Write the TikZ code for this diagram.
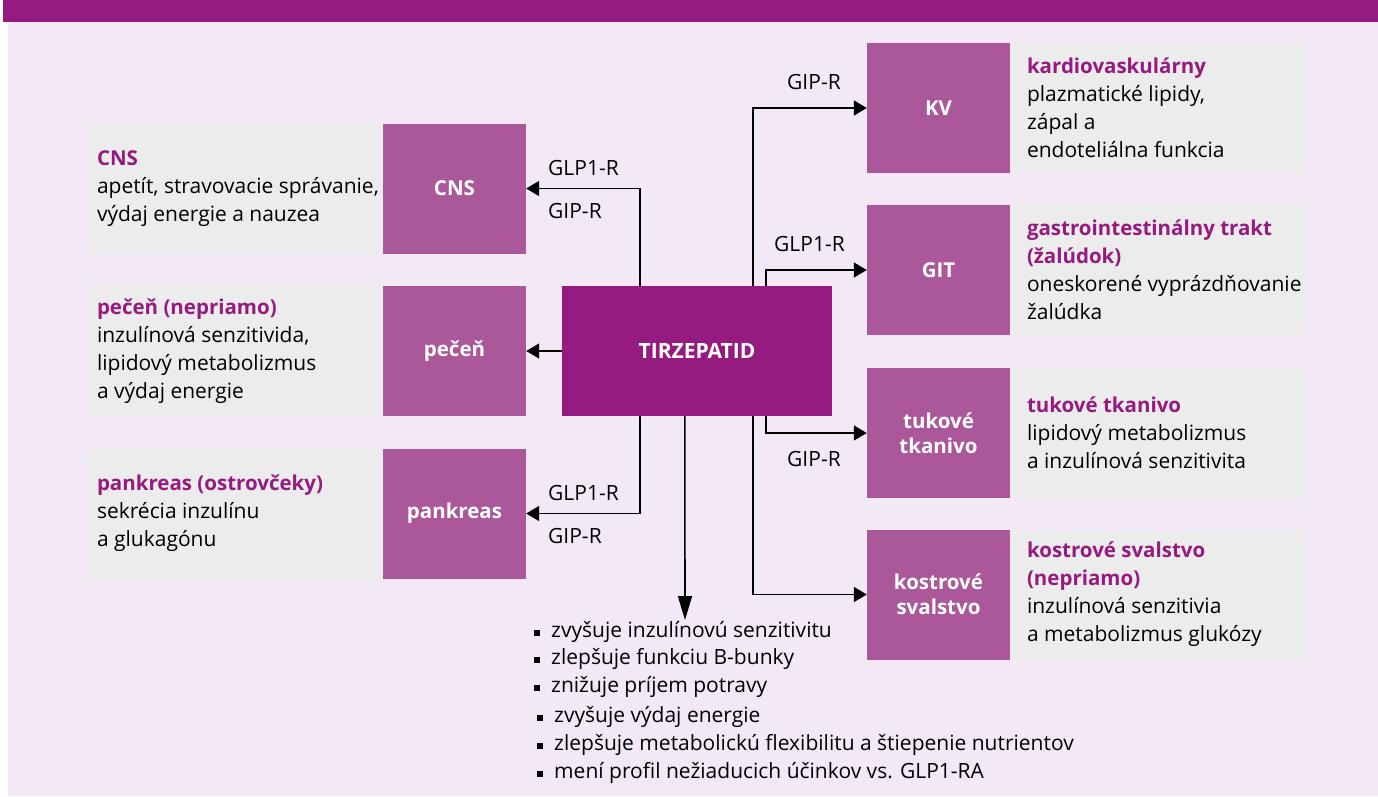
\documentclass[tikz,border=0pt]{standalone}
\usepackage{fontspec}
\setmainfont{Open Sans}
\usetikzlibrary{arrows.meta,calc}
\definecolor{banner}{RGB}{149,27,128}
\definecolor{side}{RGB}{171,88,155}
\definecolor{greyc}{RGB}{236,236,236}
\definecolor{bgc}{RGB}{243,232,245}
\definecolor{head}{RGB}{149,27,128}
\tikzset{
  pbox/.style={fill=side, minimum width=143, minimum height=130, inner sep=0, text=white, align=center, font=\fontsize{20.5}{25}\selectfont\bfseries},
  gbox/.style={fill=greyc, minimum height=130, inner sep=0},
  desc/.style={anchor=west, align=left, inner sep=0, font=\fontsize{21}{28}\selectfont},
  lbl/.style={inner sep=0, font=\fontsize{21}{24}\selectfont},
  arr/.style={line width=1.6, -{Triangle[length=13,width=15]}},
  darr/.style={line width=1.6, -{Triangle[length=24,width=14]}},
  bul/.style={anchor=west, inner sep=0, font=\fontsize{21}{24}\selectfont},
}
\newcommand{\hd}[1]{{\fontsize{20.5}{28}\selectfont\bfseries\color{head}#1}}
\begin{document}
\begin{tikzpicture}[x=1pt,y=-1pt]
\useasboundingbox (0,0) rectangle (1378,796);
\fill[bgc] (8,22) rectangle (1378,796);
\fill[banner] (3,0) rectangle (1378,22);
% center
\node[fill=banner, minimum width=270, minimum height=130, inner sep=0, text=white, font=\fontsize{21}{25}\selectfont\bfseries] (tz) at (697,351) {TIRZEPATID};
% left
\node[gbox, minimum width=297] (gcns) at (234.5,188.5) {};
\node[pbox] (cns) at (454.5,188.5) {CNS};
\node[desc] (dcns) at ([xshift=11]gcns.west) {\hd{CNS}\\apetít, stravovacie správanie,\\výdaj energie a nauzea};
\node[gbox, minimum width=297] (gpec) at (234.5,351) {};
\node[pbox] (pec) at (454.5,351) {pečeň};
\node[desc] (dpec) at ([xshift=11]gpec.west) {\hd{pečeň (nepriamo)}\\inzulínová senzitivida,\\lipidový metabolizmus\\a výdaj energie};
\node[gbox, minimum width=297] (gpan) at (234.5,513.5) {};
\node[pbox] (pan) at (454.5,513.5) {pankreas};
\node[desc] (dpan) at ([xshift=11]gpan.west) {\hd{pankreas (ostrovčeky)}\\sekrécia inzulínu\\a glukagónu};
% right
\node[pbox] (kv) at (938.5,108) {KV};
\node[gbox, minimum width=296] (gkv) at (1158,108) {};
\node[desc] (dkv) at ([xshift=17]gkv.west) {\hd{kardiovaskulárny}\\plazmatické lipidy,\\zápal a\\endoteliálna funkcia};
\node[pbox] (git) at (938.5,270) {GIT};
\node[gbox, minimum width=296] (ggit) at (1158,270) {};
\node[desc] (dgit) at ([xshift=17]ggit.west) {\hd{gastrointestinálny trakt}\\\hd{(žalúdok)}\\oneskorené vyprázdňovanie\\žalúdka};
\node[pbox] (tuk) at (938.5,433) {tukové\\tkanivo};
\node[gbox, minimum width=296] (gtuk) at (1158,433) {};
\node[desc] (dtuk) at ([xshift=17]gtuk.west) {\hd{tukové tkanivo}\\lipidový metabolizmus\\a inzulínová senzitivita};
\node[pbox] (kos) at (938.5,594.5) {kostrové\\svalstvo};
\node[gbox, minimum width=296] (gkos) at (1158,594.5) {};
\node[desc] (dkos) at ([xshift=17]gkos.west) {\hd{kostrové svalstvo}\\\hd{(nepriamo)}\\inzulínová senzitivia\\a metabolizmus glukózy};
% connectors
\draw[arr] ([xshift=78]tz.north west) |- (cns.east);
\draw[arr] (tz.west) -- (pec.east);
\draw[arr] ([xshift=78]tz.south west) |- (pan.east);
\draw[arr] ([xshift=191]tz.north west) |- (kv.west);
\draw[arr] ([xshift=204]tz.north west) |- (git.west);
\draw[arr] ([xshift=204]tz.south west) |- (tuk.west);
\draw[arr] ([xshift=191]tz.south west) |- (kos.west);
\coordinate (dend) at (685,620);
\draw[darr] ([xshift=123]tz.south west) -- (dend);
% labels
\node[lbl, anchor=west] (l1) at (548,168) {GLP1-R};
\node[lbl, anchor=west] (l2) at (548,211) {GIP-R};
\node[lbl, anchor=west] (l3) at (548,493) {GLP1-R};
\node[lbl, anchor=west] (l4) at (548,536) {GIP-R};
\node[lbl, anchor=west] (l5) at (787,82) {GIP-R};
\node[lbl, anchor=west] (l6) at (774,244) {GLP1-R};
\node[lbl, anchor=west] (l7) at (787,459) {GIP-R};
% bullets
\foreach \yy/\xx/\tt [count=\i] in {632/551/zvyšuje inzulínovú senzitivitu, 659/551/zlepšuje funkciu B-bunky, 687/551/znižuje príjem potravy, 717/554/zvyšuje výdaj energie, 745/554/zlepšuje metabolickú flexibilitu a štiepenie nutrientov, 773/554/mení profil nežiaducich účinkov vs. GLP1-RA}{
  \fill ({\xx-17},{\yy-2}) rectangle ++(6,6);
  \node[bul] (b\i) at (\xx,\yy) {\tt};
}
\end{tikzpicture}
\end{document}
